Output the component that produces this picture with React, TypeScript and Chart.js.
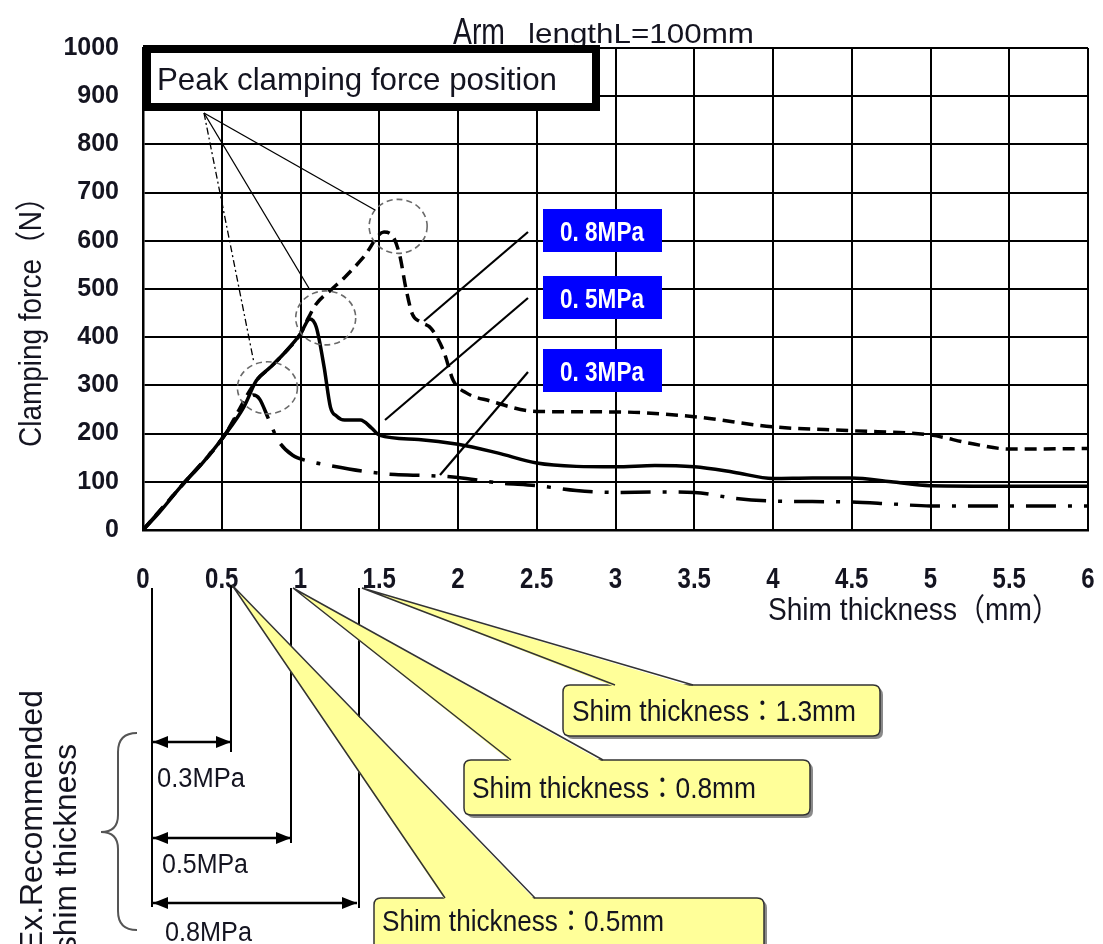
import React, { useEffect, useRef } from 'react';
import { Chart, registerables } from 'chart.js';

Chart.register(...registerables);

// ---------- data ----------
const xTicks = [0, 0.5, 1, 1.5, 2, 2.5, 3, 3.5, 4, 4.5, 5, 5.5, 6];
const xTickLabels = ['0', '0.5', '1', '1.5', '2', '2.5', '3', '3.5', '4', '4.5', '5', '5.5', '6'];
const yTicks = [0, 100, 200, 300, 400, 500, 600, 700, 800, 900, 1000];
const yTickLabels = ['0', '100', '200', '300', '400', '500', '600', '700', '800', '900', '1000'];

const seriesNames = ['0.5MPa', '0.8MPa', '0.3MPa'];

// 0.5 MPa (solid)
const mpa05X = [0, 0.1, 0.24, 0.38, 0.51, 0.64, 0.72, 0.81, 0.92, 1.0, 1.06, 1.1, 1.15, 1.19, 1.23, 1.28, 1.38, 1.45, 1.5, 1.75, 2.0, 2.25, 2.5, 2.75, 3.0, 3.25, 3.5, 3.75, 4.0, 4.25, 4.5, 4.75, 5.0, 5.5, 6.0];
const mpa05Y = [0, 35, 90, 140, 193, 255, 310, 338, 375, 407, 438, 421, 338, 255, 236, 228, 228, 212, 197, 188, 178, 160, 139, 132, 131, 134, 131, 120, 107, 108, 108, 100, 92, 91, 91];

// 0.8 MPa (dashed)
const mpa08X = [0, 0.24, 0.51, 0.72, 0.81, 0.92, 1.0, 1.05, 1.1, 1.2, 1.28, 1.4, 1.53, 1.58, 1.63, 1.67, 1.71, 1.76, 1.83, 1.91, 1.97, 2.05, 2.2, 2.5, 3.0, 3.5, 4.0, 4.5, 5.0, 5.25, 5.5, 6.0];
const mpa08Y = [0, 90, 193, 310, 338, 375, 407, 440, 469, 500, 524, 566, 618, 612, 570, 500, 448, 432, 418, 370, 310, 285, 268, 246, 245, 235, 214, 206, 197, 180, 168, 169];

// 0.3 MPa (dash-dot)
const mpa03X = [0, 0.24, 0.51, 0.65, 0.7, 0.74, 0.8, 0.86, 0.95, 1.05, 1.2, 1.4, 1.6, 1.8, 2.0, 2.25, 2.5, 2.75, 3.0, 3.25, 3.5, 3.75, 4.0, 4.25, 4.5, 4.75, 5.0, 5.5, 6.0];
const mpa03Y = [0, 90, 193, 262, 280, 272, 228, 185, 155, 143, 133, 122, 115, 113, 109, 98, 92, 82, 78, 79, 78, 66, 60, 59, 58, 54, 50, 50, 50];

const titleA = 'Arm';
const titleB = 'lengthL=100mm';
const yTitle = 'Clamping force（N）';
const xTitle = 'Shim thickness（mm）';
const peakLabel = 'Peak clamping force position';
const boxLabels = ['0. 8MPa', '0. 5MPa', '0. 3MPa'];
const calloutLabels = ['Shim thickness：1.3mm', 'Shim thickness：0.8mm', 'Shim thickness：0.5mm'];
const recLabels = ['0.3MPa', '0.5MPa', '0.8MPa'];
const recTitle1 = 'Ex.Recommended';
const recTitle2 = 'shim thickness';

const SANS = '"Liberation Sans", Arial, "Noto Sans CJK JP", sans-serif';
const INK = '#141420';

function fitText(
  ctx: CanvasRenderingContext2D,
  text: string,
  x: number,
  y: number,
  font: string,
  width: number,
  align: 'left' | 'center' | 'right',
  color: string,
  rot = 0
) {
  ctx.save();
  ctx.font = font;
  ctx.fillStyle = color;
  ctx.textBaseline = 'alphabetic';
  ctx.textAlign = 'left';
  const w = ctx.measureText(text).width;
  const s = width / w;
  ctx.translate(x, y);
  if (rot) ctx.rotate(rot);
  ctx.scale(s, 1);
  const off = align === 'center' ? -w / 2 : align === 'right' ? -w : 0;
  ctx.fillText(text, off, 0);
  ctx.restore();
}

function line(ctx: CanvasRenderingContext2D, pts: number[][], width: number, color: string, dash: number[] = []) {
  ctx.save();
  ctx.strokeStyle = color;
  ctx.lineWidth = width;
  ctx.setLineDash(dash);
  ctx.beginPath();
  pts.forEach((p, i) => (i === 0 ? ctx.moveTo(p[0], p[1]) : ctx.lineTo(p[0], p[1])));
  ctx.stroke();
  ctx.restore();
}

function arrowHead(ctx: CanvasRenderingContext2D, x: number, y: number, dir: number) {
  ctx.beginPath();
  ctx.moveTo(x, y);
  ctx.lineTo(x - dir * 15, y - 6);
  ctx.lineTo(x - dir * 15, y + 6);
  ctx.closePath();
  ctx.fill();
}

function roundRect(ctx: CanvasRenderingContext2D, x: number, y: number, w: number, h: number, r: number) {
  ctx.beginPath();
  ctx.moveTo(x + r, y);
  ctx.lineTo(x + w - r, y);
  ctx.quadraticCurveTo(x + w, y, x + w, y + r);
  ctx.lineTo(x + w, y + h - r);
  ctx.quadraticCurveTo(x + w, y + h, x + w - r, y + h);
  ctx.lineTo(x + r, y + h);
  ctx.quadraticCurveTo(x, y + h, x, y + h - r);
  ctx.lineTo(x, y + r);
  ctx.quadraticCurveTo(x, y, x + r, y);
  ctx.closePath();
}

const decoPlugin = {
  id: 'deco',
  beforeDraw(chart: any) {
    const ctx: CanvasRenderingContext2D = chart.ctx;
    ctx.save();
    ctx.fillStyle = '#ffffff';
    ctx.fillRect(0, 0, chart.width, chart.height);
    ctx.restore();
    // title
    fitText(ctx, titleA, 453, 44, `36px ${SANS}`, 52, 'left', INK);
    fitText(ctx, titleB, 528, 43, `28px ${SANS}`, 226, 'left', INK);
  },
  afterDraw(chart: any) {
    const ctx: CanvasRenderingContext2D = chart.ctx;
    const xs = chart.scales.x;
    const ys = chart.scales.y;
    const area = chart.chartArea;

    // x tick labels
    xTicks.forEach((v, i) => {
      const px = xs.getPixelForValue(v);
      ctx.save();
      ctx.font = `bold 30px ${SANS}`;
      const w = ctx.measureText(xTickLabels[i]).width * 0.8;
      ctx.restore();
      fitText(ctx, xTickLabels[i], px, area.bottom + 58, `bold 30px ${SANS}`, w, 'center', INK);
    });

    // axis titles
    fitText(ctx, xTitle, 768, 620, `31px ${SANS}`, 292, 'left', INK);
    fitText(ctx, yTitle, 41, 447, `31px ${SANS}`, 264, 'left', INK, -Math.PI / 2);

    // dashed circles at peak positions
    const circles = [
      [1.62, 630, 29, 27],
      [1.16, 440, 30, 27],
      [0.79, 295, 30, 26],
    ];
    circles.forEach(([cx, cy, rx, ry]) => {
      ctx.save();
      ctx.strokeStyle = '#6a6a6a';
      ctx.lineWidth = 1.6;
      ctx.setLineDash([6, 4]);
      ctx.beginPath();
      ctx.ellipse(xs.getPixelForValue(cx), ys.getPixelForValue(cy), rx, ry, 0, 0, Math.PI * 2);
      ctx.stroke();
      ctx.restore();
    });

    // peak leader lines
    line(ctx, [[204, 113], [375, 210]], 1.3, '#000');
    line(ctx, [[204, 113], [310, 290]], 1.3, '#000');
    line(ctx, [[204, 113], [254, 363]], 1.3, '#000', [7, 3, 2, 3]);

    // peak label box
    ctx.save();
    ctx.fillStyle = '#fff';
    ctx.fillRect(147, 49, 449, 58);
    ctx.strokeStyle = '#000';
    ctx.lineWidth = 8;
    ctx.strokeRect(147, 49, 449, 58);
    ctx.restore();
    fitText(ctx, peakLabel, 157, 90, `32px ${SANS}`, 400, 'left', INK);

    // blue labels with leaders
    const leaders = [
      [[528, 232], [424, 321]],
      [[528, 298], [385, 420]],
      [[528, 372], [440, 475]],
    ];
    leaders.forEach((l) => line(ctx, l, 2.2, '#000'));
    const boxTops = [209, 276, 349];
    boxTops.forEach((t, i) => {
      ctx.save();
      ctx.fillStyle = '#0000ff';
      ctx.fillRect(543, t, 119, 43);
      ctx.restore();
      fitText(ctx, boxLabels[i], 602, t + 32, `bold 27px ${SANS}`, 84, 'center', '#ffffff');
    });

    // ---------- bottom annotation ----------
    line(ctx, [[152, 588], [152, 907]], 2, '#000');
    line(ctx, [[231, 585], [231, 752]], 2, '#000');
    line(ctx, [[291, 588], [291, 843]], 2, '#000');
    line(ctx, [[359, 588], [359, 908]], 2, '#000');

    const arrows = [
      [742, 231],
      [838, 291],
      [903, 357],
    ];
    arrows.forEach(([y, x2]) => {
      line(ctx, [[153, y], [x2, y]], 2.6, '#000');
      ctx.save();
      ctx.fillStyle = '#000';
      arrowHead(ctx, 153, y, -1);
      arrowHead(ctx, x2, y, 1);
      ctx.restore();
    });
    fitText(ctx, recLabels[0], 157, 787, `27px ${SANS}`, 88, 'left', INK);
    fitText(ctx, recLabels[1], 162, 873, `27px ${SANS}`, 86, 'left', INK);
    fitText(ctx, recLabels[2], 165, 941, `27px ${SANS}`, 87, 'left', INK);

    // brace
    ctx.save();
    ctx.strokeStyle = '#555';
    ctx.lineWidth = 2;
    ctx.beginPath();
    ctx.moveTo(137, 733);
    ctx.quadraticCurveTo(118, 733, 118, 752);
    ctx.lineTo(118, 815);
    ctx.quadraticCurveTo(118, 832, 101, 832);
    ctx.quadraticCurveTo(118, 832, 118, 849);
    ctx.lineTo(118, 911);
    ctx.quadraticCurveTo(118, 930, 137, 930);
    ctx.stroke();
    ctx.restore();

    fitText(ctx, recTitle1, 42, 952, `32px ${SANS}`, 262, 'left', INK, -Math.PI / 2);
    fitText(ctx, recTitle2, 76, 952, `32px ${SANS}`, 208, 'left', INK, -Math.PI / 2);

    // callouts
    const callouts = [
      { text: calloutLabels[0], bx: 563, by: 685, bw: 317, bh: 51, tip: [362, 588], b1: 615, b2: 693, tx: 572, tw: 284, ty: 721 },
      { text: calloutLabels[1], bx: 464, by: 760, bw: 346, bh: 55, tip: [293, 588], b1: 511, b2: 603, tx: 472, tw: 284, ty: 798 },
      { text: calloutLabels[2], bx: 374, by: 898, bw: 390, bh: 60, tip: [232, 585], b1: 445, b2: 535, tx: 382, tw: 282, ty: 931 },
    ];
    callouts.forEach((c) => {
      ctx.save();
      ctx.fillStyle = '#8a8a8a';
      roundRect(ctx, c.bx + 3, c.by + 3, c.bw, c.bh, 7);
      ctx.fill();
      ctx.fillStyle = '#ffff99';
      roundRect(ctx, c.bx, c.by, c.bw, c.bh, 7);
      ctx.fill();
      ctx.strokeStyle = '#333';
      ctx.lineWidth = 1.5;
      ctx.stroke();
      ctx.beginPath();
      ctx.moveTo(c.tip[0], c.tip[1]);
      ctx.lineTo(c.b1, c.by + 2);
      ctx.lineTo(c.b2, c.by + 2);
      ctx.closePath();
      ctx.fillStyle = '#ffff99';
      ctx.fill();
      ctx.beginPath();
      ctx.moveTo(c.b1, c.by);
      ctx.lineTo(c.tip[0], c.tip[1]);
      ctx.lineTo(c.b2, c.by);
      ctx.strokeStyle = '#333';
      ctx.lineWidth = 1.5;
      ctx.stroke();
      ctx.restore();
      fitText(ctx, c.text, c.tx, c.ty, `30px ${SANS}`, c.tw, 'left', INK);
    });
  },
};

export default function App() {
  const ref = useRef<HTMLCanvasElement | null>(null);

  useEffect(() => {
    const canvas = ref.current;
    if (!canvas) return;
    const toPts = (xa: number[], ya: number[]) => xa.map((x, i) => ({ x, y: ya[i] }));
    const chart = new Chart(canvas, {
      type: 'line',
      data: {
        datasets: [
          {
            label: seriesNames[0],
            data: toPts(mpa05X, mpa05Y),
            borderColor: '#000',
            borderWidth: 3.5,
            pointRadius: 0,
            cubicInterpolationMode: 'monotone',
          },
          {
            label: seriesNames[1],
            data: toPts(mpa08X, mpa08Y),
            borderColor: '#000',
            borderWidth: 3.5,
            borderDash: [12, 7],
            pointRadius: 0,
            cubicInterpolationMode: 'monotone',
          },
          {
            label: seriesNames[2],
            data: toPts(mpa03X, mpa03Y),
            borderColor: '#000',
            borderWidth: 3.5,
            borderDash: [30, 12, 4, 12],
            pointRadius: 0,
            cubicInterpolationMode: 'monotone',
          },
        ],
      },
      options: {
        responsive: false,
        animation: false,
        devicePixelRatio: 1,
        layout: { padding: { left: 0, top: 48, right: 15, bottom: 0 } },
        plugins: { legend: { display: false }, tooltip: { enabled: false }, title: { display: false } },
        scales: {
          x: {
            type: 'linear',
            min: xTicks[0],
            max: xTicks[xTicks.length - 1],
            ticks: { display: false, stepSize: 0.5 },
            grid: { color: '#000', lineWidth: 2, drawTicks: false },
            border: { color: '#000', width: 2.5 },
            afterFit: (s: any) => {
              s.height = 414;
            },
          },
          y: {
            min: yTicks[0],
            max: yTicks[yTicks.length - 1],
            ticks: {
              stepSize: 100,
              color: INK,
              padding: 24,
              font: { family: SANS, size: 25, weight: 'bold' },
              callback: (v: any) => {
                const i = yTicks.indexOf(Number(v));
                return i >= 0 ? yTickLabels[i] : '';
              },
            },
            grid: { color: '#000', lineWidth: 2, drawTicks: false },
            border: { color: '#000', width: 2.5 },
            afterFit: (s: any) => {
              s.width = 143;
            },
          },
        },
      } as any,
      plugins: [decoPlugin],
    });
    return () => chart.destroy();
  }, []);

  return (
    <div style={{ position: 'absolute', left: 0, top: 0, width: 1103, height: 944, background: '#fff' }}>
      <canvas ref={ref} width={1103} height={944} style={{ display: 'block', width: 1103, height: 944 }} />
    </div>
  );
}
